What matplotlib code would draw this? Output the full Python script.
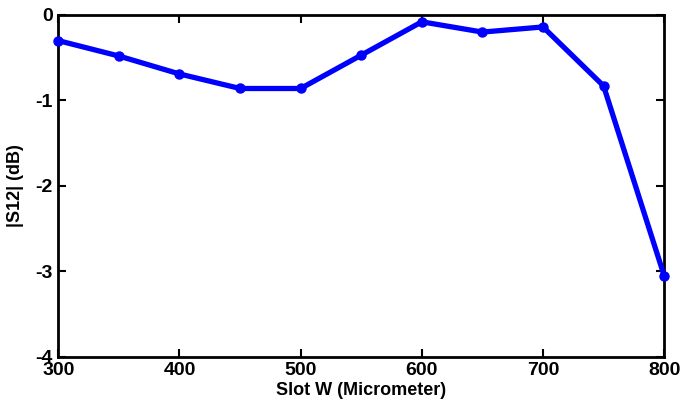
import matplotlib
matplotlib.use("Agg")
import matplotlib.pyplot as plt

# slot width sweep vs transmission
slot_w = [300, 350, 400, 450, 500, 550, 600, 650, 700, 750, 800]
s12_db = [-0.30, -0.48, -0.69, -0.86, -0.86, -0.47, -0.08, -0.20, -0.14, -0.83, -3.05]

x_ticks = [300, 400, 500, 600, 700, 800]
y_ticks = [-4, -3, -2, -1, 0]

plt.rcParams["font.family"] = ["Liberation Sans", "DejaVu Sans"]
plt.rcParams["axes.unicode_minus"] = False

fig = plt.figure(figsize=(6.94, 4.16), dpi=100)
ax = fig.add_axes([0.084, 0.142, 0.873, 0.822])

ax.plot(slot_w, s12_db, color="#0000ff", linewidth=3.8,
        marker="o", markersize=6.5, clip_on=False, zorder=5)

ax.set_xlim(300, 800)
ax.set_ylim(-4, 0)
ax.set_xticks(x_ticks)
ax.set_yticks(y_ticks)
ax.tick_params(direction="in", length=6, width=1.5, top=True, right=True,
               labelsize=14, pad=4)
for lab in ax.get_xticklabels() + ax.get_yticklabels():
    lab.set_fontweight("bold")
for sp in ax.spines.values():
    sp.set_linewidth(2)

ax.set_xlabel("Slot W (Micrometer)", fontsize=13, fontweight="bold", labelpad=2)
ax.set_ylabel("|S12| (dB)", fontsize=13, fontweight="bold", labelpad=8)

fig.savefig("out.png", dpi=100)
